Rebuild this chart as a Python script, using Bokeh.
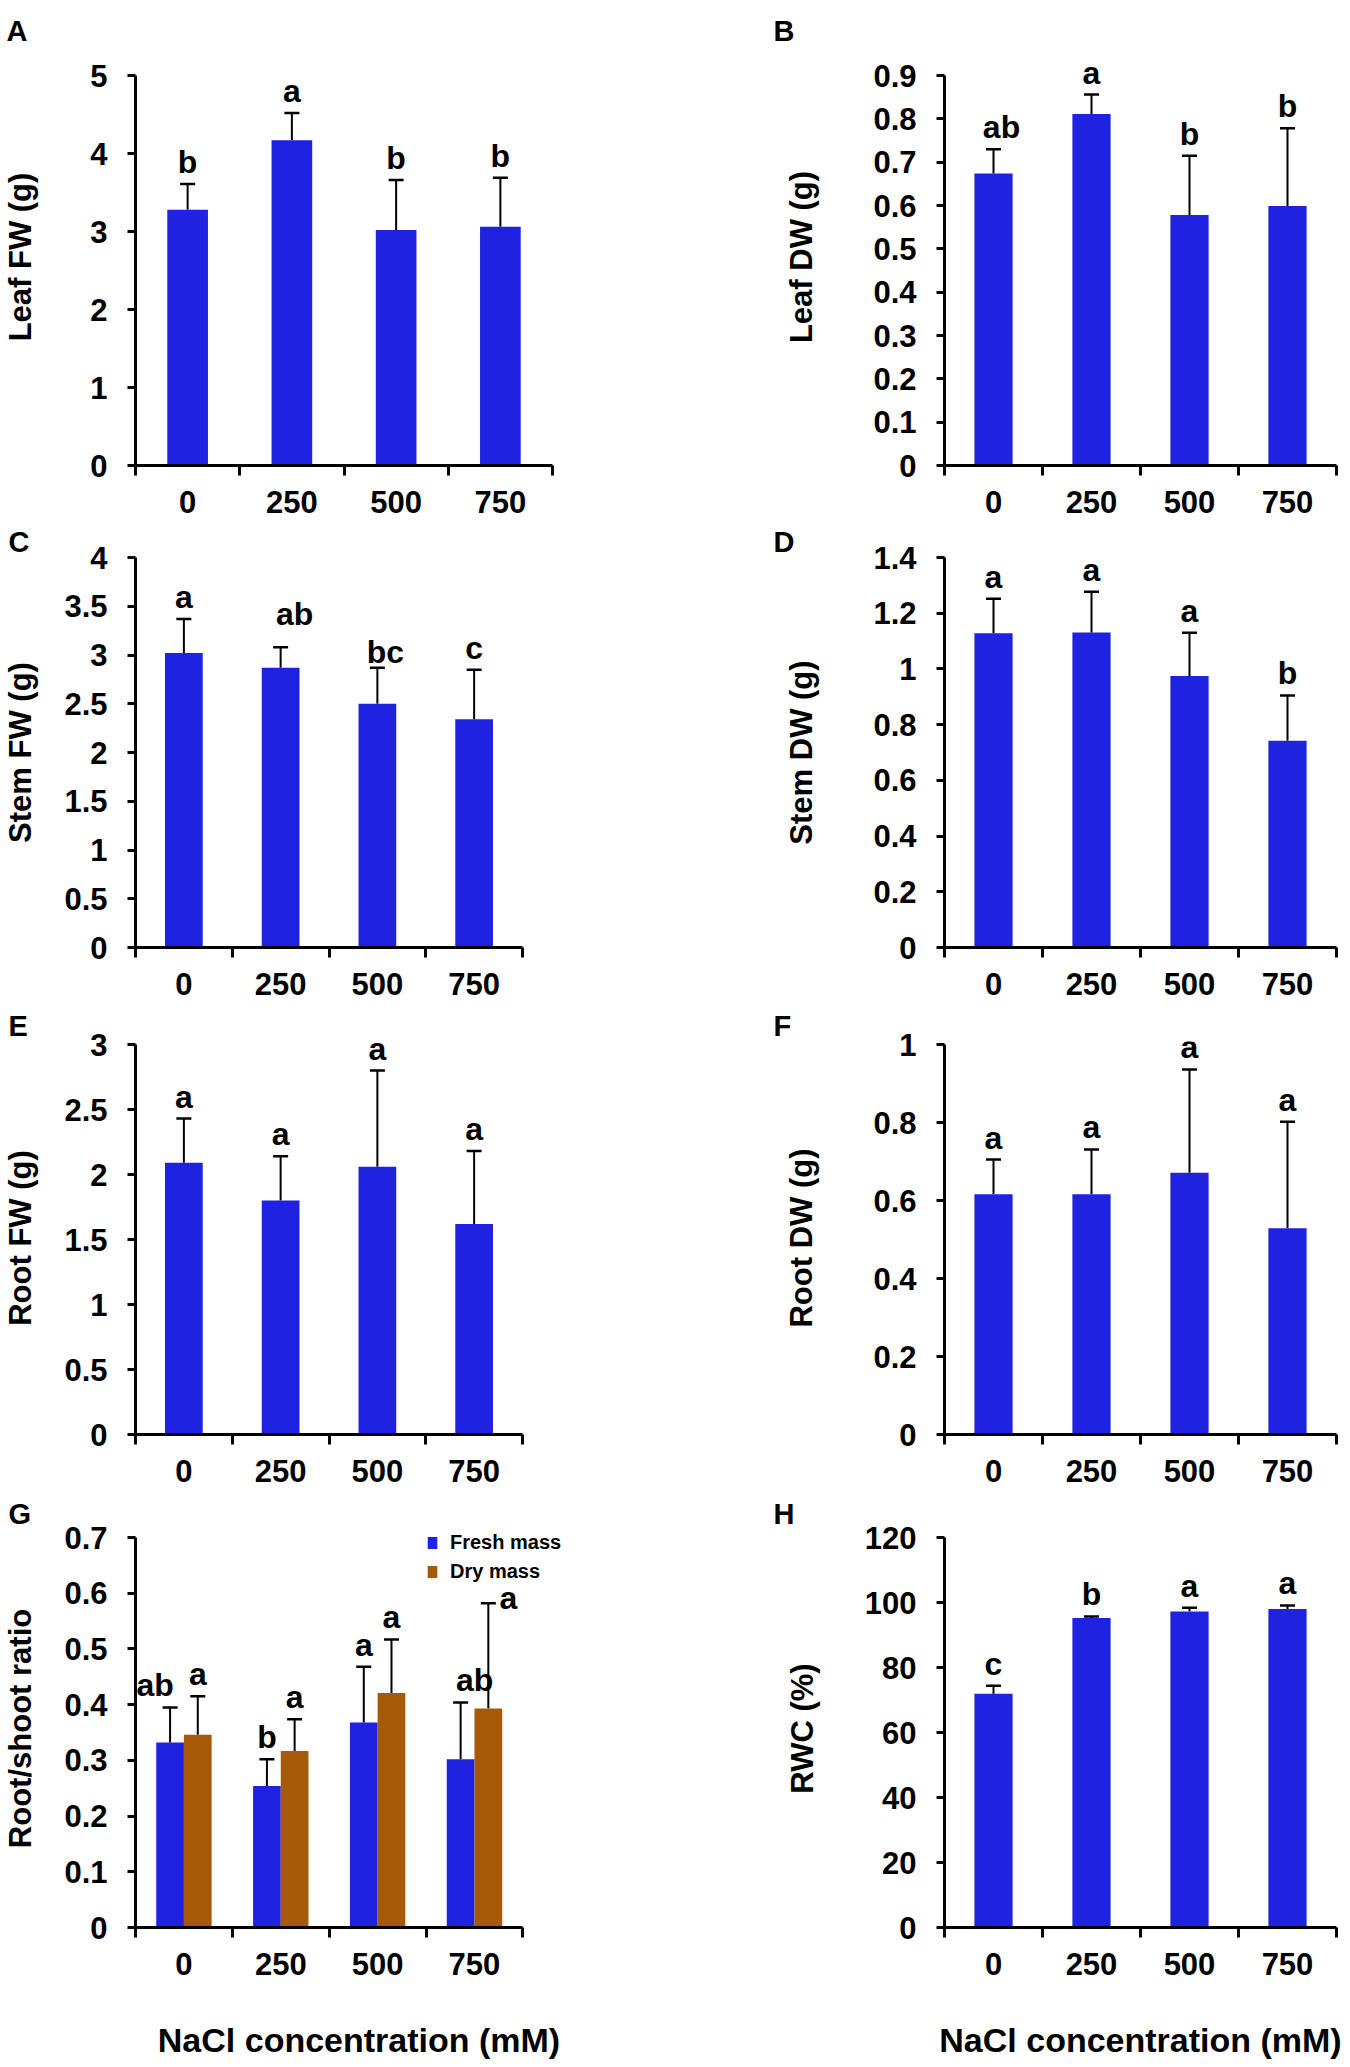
from bokeh.plotting import figure
from bokeh.models import (ColumnDataSource, Range1d, FixedTicker, NumeralTickFormatter,
                          Whisker, TeeHead, LabelSet, Legend, LegendItem)
from bokeh.core.properties import value
from bokeh.layouts import column, row
from bokeh.embed import file_html
from bokeh.resources import INLINE

# NaCl concentration (mM)
nacl = ["0", "250", "500", "750"]

# A - leaf fresh weight
leaf_fw = [3.28, 4.17, 3.02, 3.06]
leaf_fw_err = [0.33, 0.35, 0.64, 0.63]
leaf_fw_sig = ["b", "a", "b", "b"]
leaf_fw_ticks = [0, 1, 2, 3, 4, 5]

# B - leaf dry weight
leaf_dw = [0.674, 0.811, 0.578, 0.599]
leaf_dw_err = [0.056, 0.045, 0.137, 0.179]
leaf_dw_sig = ["ab", "a", "b", "b"]
leaf_dw_ticks = [0, 0.1, 0.2, 0.3, 0.4, 0.5, 0.6, 0.7, 0.8, 0.9]

# C - stem fresh weight
stem_fw = [3.02, 2.87, 2.50, 2.34]
stem_fw_err = [0.35, 0.21, 0.37, 0.51]
stem_fw_sig = ["a", "ab", "bc", "c"]
stem_fw_ticks = [0, 0.5, 1, 1.5, 2, 2.5, 3, 3.5, 4]

# D - stem dry weight
stem_dw = [1.128, 1.131, 0.975, 0.742]
stem_dw_err = [0.124, 0.146, 0.155, 0.163]
stem_dw_sig = ["a", "a", "a", "b"]
stem_dw_ticks = [0, 0.2, 0.4, 0.6, 0.8, 1, 1.2, 1.4]

# E - root fresh weight
root_fw = [2.09, 1.80, 2.06, 1.62]
root_fw_err = [0.34, 0.34, 0.74, 0.56]
root_fw_sig = ["a", "a", "a", "a"]
root_fw_ticks = [0, 0.5, 1, 1.5, 2, 2.5, 3]

# F - root dry weight
root_dw = [0.616, 0.616, 0.671, 0.529]
root_dw_err = [0.089, 0.115, 0.265, 0.273]
root_dw_sig = ["a", "a", "a", "a"]
root_dw_ticks = [0, 0.2, 0.4, 0.6, 0.8, 1]

# G - root/shoot ratio
rs_fresh = [0.332, 0.254, 0.368, 0.302]
rs_fresh_err = [0.063, 0.048, 0.100, 0.102]
rs_fresh_sig = ["ab", "b", "a", "ab"]
rs_dry = [0.346, 0.317, 0.421, 0.393]
rs_dry_err = [0.069, 0.057, 0.096, 0.189]
rs_dry_sig = ["a", "a", "a", "a"]
rs_ticks = [0, 0.1, 0.2, 0.3, 0.4, 0.5, 0.6, 0.7]

# H - relative water content
rwc = [71.9, 95.2, 97.2, 98.0]
rwc_err = [2.5, 0.5, 1.2, 1.1]
rwc_sig = ["c", "b", "a", "a"]
rwc_ticks = [0, 20, 40, 60, 80, 100, 120]

BLUE = "#1f23e1"
BROWN = "#a65a08"
FONT = "Liberation Sans"
TICK_H = 390          # pixel height of the tick span 0..max
# per row: figure top, pixel of top tick, headroom above it, figure bottom, letter alignment
ROWS = [(0, 75, 27, 522, "top"),
        (522, 557, 0, 1003, "bottom"),
        (1003, 1044, 3, 1491, "bottom"),
        (1491, 1537, 8, 2067, "bottom")]


def make_panel(ylabel, ticks, letter, side, row_i, series,
               wide=0, frame_w=390, ylab_standoff=23, xlabel=None):
    r0, tick_top, head, r1, valign = ROWS[row_i]
    if side == "left":
        x0, width, frame_left, letter_dx = 0, 675, 132, -127
    else:
        x0, width, frame_left, letter_dx = 675, 673, 944, -171
    if letter == "A":
        letter_dx -= 2
    bl = frame_left - x0
    br = width - bl - frame_w - wide
    bt = tick_top - r0 - head
    bb = r1 - (tick_top + TICK_H)
    ymax = ticks[-1]
    p = figure(width=width, height=r1 - r0,
               x_range=Range1d(0, 4 * (frame_w + wide) / frame_w),
               y_range=Range1d(0, ymax * (TICK_H + head) / TICK_H),
               output_backend="svg", toolbar_location=None,
               min_border_left=bl, min_border_right=br,
               min_border_top=bt, min_border_bottom=bb)
    p.grid.visible = False
    p.outline_line_color = None

    renderers = []
    for s in series:
        xs = [i + 0.5 + s["shift"] for i in range(len(nacl))]
        hi = [v + e for v, e in zip(s["vals"], s["errs"])]
        src = ColumnDataSource(data=dict(x=xs, val=s["vals"], hi=hi, sig=s["sig"],
                                         dx=s.get("dx") or [0] * 4,
                                         dy=s.get("dy") or [11] * 4))
        r = p.vbar(x="x", top="val", bottom=0, width=s["width"], source=src,
                   fill_color=s["color"], line_color=None)
        renderers.append(r)
        p.add_layout(Whisker(base="x", lower="val", upper="hi", source=src,
                             line_color="black", line_width=2, lower_head=None,
                             upper_head=TeeHead(size=15, line_color="black", line_width=2.5)))
        p.add_layout(LabelSet(x="x", y="hi", text="sig", source=src,
                              x_offset="dx", y_offset="dy",
                              text_align="center", text_baseline="alphabetic",
                              text_font=value(FONT), text_font_style="bold",
                              text_font_size="32px", text_color="black"))

    ya = p.yaxis[0]
    ya.ticker = FixedTicker(ticks=ticks)
    ya.formatter = NumeralTickFormatter(format="0.[0]")
    ya.bounds = (0, ymax)
    ya.major_tick_out = 8
    ya.major_tick_in = 0
    ya.minor_tick_line_color = None
    ya.major_label_standoff = 20
    ya.axis_label = ylabel
    ya.axis_label_standoff = ylab_standoff
    ya.axis_label_text_font_size = "31px"

    # x axis: labels at category centres, tick marks on the boundaries
    xa = p.xaxis[0]
    xa.ticker = FixedTicker(ticks=[i + 0.5 for i in range(4)], minor_ticks=[0, 1, 2, 3, 4])
    xa.major_label_overrides = {i + 0.5: lab for i, lab in enumerate(nacl)}
    xa.bounds = (0, 4)
    xa.major_tick_out = 0
    xa.major_tick_in = 0
    xa.minor_tick_out = 10
    xa.minor_tick_in = 0
    xa.minor_tick_line_width = 3
    xa.minor_tick_line_color = "black"
    xa.major_label_standoff = 15
    if xlabel:
        xa.axis_label = xlabel
        xa.axis_label_standoff = 43
        xa.axis_label_text_font_size = "34px"
    for ax in (xa, ya):
        ax.axis_line_width = 3
        ax.axis_line_color = "black"
        ax.major_tick_line_width = 3
        ax.major_tick_line_color = "black"
        ax.major_label_text_font = FONT
        ax.major_label_text_font_style = "bold"
        ax.major_label_text_font_size = "31px"
        ax.major_label_text_color = "black"
        ax.axis_label_text_font = FONT
        ax.axis_label_text_font_style = "bold"
        ax.axis_label_text_color = "black"

    # panel letter
    p.title.text = letter
    p.title.align = "left"
    p.title.vertical_align = valign
    p.title.offset = letter_dx
    p.title.standoff = 0
    p.title.text_font = FONT
    p.title.text_font_style = "bold"
    p.title.text_font_size = "29px"
    p.title.text_line_height = 1.0
    p.title.text_color = "black"
    return p, renderers


def single(vals, errs, sig, dx=None, dy=None):
    return [dict(vals=vals, errs=errs, sig=sig, shift=0, width=0.39, color=BLUE, dx=dx, dy=dy)]


pA, _ = make_panel("Leaf FW (g)", leaf_fw_ticks, "A", "left", 0,
                   single(leaf_fw, leaf_fw_err, leaf_fw_sig),
                   frame_w=420, ylab_standoff=49)
pB, _ = make_panel("Leaf DW (g)", leaf_dw_ticks, "B", "right", 0,
                   single(leaf_dw, leaf_dw_err, leaf_dw_sig, dx=[8, 0, 0, 0]),
                   frame_w=392, ylab_standoff=51)
pC, _ = make_panel("Stem FW (g)", stem_fw_ticks, "C", "left", 1,
                   single(stem_fw, stem_fw_err, stem_fw_sig, dx=[0, 14, 8, 0], dy=[11, 22, 5, 11]))
pD, _ = make_panel("Stem DW (g)", stem_dw_ticks, "D", "right", 1,
                   single(stem_dw, stem_dw_err, stem_dw_sig),
                   frame_w=392, ylab_standoff=51)
pE, _ = make_panel("Root FW (g)", root_fw_ticks, "E", "left", 2,
                   single(root_fw, root_fw_err, root_fw_sig))
pF, _ = make_panel("Root DW (g)", root_dw_ticks, "F", "right", 2,
                   single(root_dw, root_dw_err, root_dw_sig),
                   frame_w=392, ylab_standoff=51)
g_series = [
    dict(vals=rs_fresh, errs=rs_fresh_err, sig=rs_fresh_sig, shift=-0.143, width=0.286,
         color=BLUE, dx=[-15, 0, 0, 14], dy=[11, 11, 11, 11]),
    dict(vals=rs_dry, errs=rs_dry_err, sig=rs_dry_sig, shift=0.143, width=0.286,
         color=BROWN, dx=[0, 0, 0, 20], dy=[11, 11, 11, -6]),
]
pG, g_rend = make_panel("Root/shoot ratio", rs_ticks, "G", "left", 3, g_series,
                        wide=60, xlabel="NaCl concentration (mM)")
pH, _ = make_panel("RWC (%)", rwc_ticks, "H", "right", 3,
                   single(rwc, rwc_err, rwc_sig), frame_w=392,
                   ylab_standoff=42, xlabel="NaCl concentration (mM)")

legend = Legend(items=[LegendItem(label="Fresh mass", renderers=[g_rend[0]]),
                       LegendItem(label="Dry mass", renderers=[g_rend[1]])],
                location=(291, 344), orientation="vertical",
                padding=0, margin=0, spacing=6, border_line_color=None,
                background_fill_alpha=0, glyph_width=12, glyph_height=15,
                label_standoff=12, label_height=20,
                label_text_font=FONT, label_text_font_style="bold",
                label_text_font_size="20px", label_text_color="black")
pG.add_layout(legend, "center")

layout = column(row(pA, pB), row(pC, pD), row(pE, pF), row(pG, pH))
open("out.html", "w").write(file_html(layout, INLINE))
